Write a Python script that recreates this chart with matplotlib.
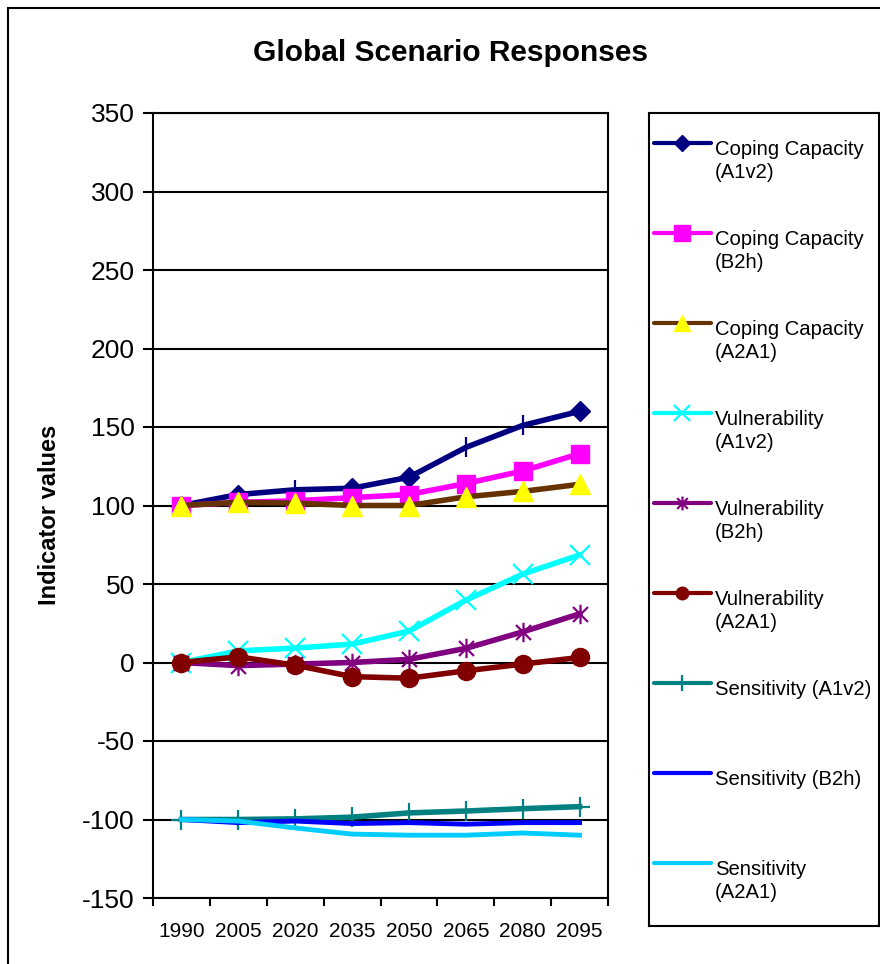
import numpy as np
import matplotlib
matplotlib.use('Agg')
import matplotlib.pyplot as plt
from matplotlib.path import Path
from matplotlib.patches import Rectangle

plt.rcParams['font.family'] = ['Liberation Sans', 'DejaVu Sans']
plt.rcParams['axes.unicode_minus'] = False

#scenario years and indicator series
years = ['1990', '2005', '2020', '2035', '2050', '2065', '2080', '2095']
cc_a1v2 = [100, 107, 110, 111, 118, 137, 151, 160]
cc_b2h = [100, 102, 103, 105, 107, 114, 122, 133]
cc_a2a1 = [100, 102, 101.5, 100, 100, 105.5, 109, 113.5]
vu_a1v2 = [0, 7.4, 9.2, 11.7, 20, 39.7, 56.3, 68.5]
vu_b2h = [0, -2, -1, 0, 2, 9, 19.5, 31]
vu_a2a1 = [0, 3.6, -1.7, -9, -10, -5.3, -1, 3.2]
se_a1v2 = [-100, -100, -99.6, -98.5, -95.8, -94.6, -93.1, -91.8]
se_b2h = [-100, -102, -101, -102.6, -102, -103, -102, -102]
se_a2a1 = [-100, -101, -105.4, -109.3, -110, -110, -108.6, -110]

labels = ['Coping Capacity\n(A1v2)', 'Coping Capacity\n(B2h)', 'Coping Capacity\n(A2A1)',
          'Vulnerability\n(A1v2)', 'Vulnerability\n(B2h)', 'Vulnerability\n(A2A1)',
          'Sensitivity (A1v2)', 'Sensitivity (B2h)', 'Sensitivity\n(A2A1)']

#excel style asterisk: an x with a vertical bar through it
asterisk = Path([(-1, -1), (1, 1), (-1, 1), (1, -1), (0, -1.3), (0, 1.3)],
                [Path.MOVETO, Path.LINETO, Path.MOVETO, Path.LINETO, Path.MOVETO, Path.LINETO])

#color, marker, size, face, edge, marker edge width, legend size
styles = [
    ('#000080', 'D', 10, '#000080', '#000080', 1, 8),
    ('#FF00FF', 's', 13.5, '#FF00FF', '#FF00FF', 1, 11),
    ('#663300', '^', 15, '#FFFF00', '#FFFF00', 1, 11),
    ('#00FFFF', 'x', 14, '#00FFFF', '#00FFFF', 1.6, 11),
    ('#800080', asterisk, 14, '#800080', '#800080', 1.6, 10),
    ('#800000', 'o', 13, '#800000', '#800000', 1, 9),
    ('#008080', '+', 15, '#008080', '#008080', 1.6, 12),
    ('#0000FF', None, 0, None, None, 1, 0),
    ('#00CCFF', None, 0, None, None, 1, 0),
]
series = [cc_a1v2, cc_b2h, cc_a2a1, vu_a1v2, vu_b2h, vu_a2a1, se_a1v2, se_b2h, se_a2a1]

fig = plt.figure(figsize=(8.8, 9.64), dpi=100)
fig.patch.set_facecolor('white')

#outer chart border
fig.patches.append(Rectangle((8/880, -0.02), 1.0, 1 - 8/964 + 0.02, transform=fig.transFigure,
                             fill=False, edgecolor='black', linewidth=1.5, zorder=0))

fig.text(450/880, 1 - 53/964, 'Global Scenario Responses', ha='center', va='center',
         fontsize=21.5, fontweight='bold')
fig.text(50/880, 1 - 515/964, 'Indicator values', ha='center', va='center',
         rotation=90, fontsize=17, fontweight='bold')

ax = fig.add_axes([153/880, 1 - 898/964, 455/880, 785/964])
x = np.arange(len(years))

for i in range(len(series)):
    color, marker, ms, fc, ec, mew, lms = styles[i]
    if i == 0:
        #first series: diamonds on some points, bars on the rest
        ax.plot(x, series[i], color=color, lw=4, marker='D', ms=ms, mfc=fc, mec=ec,
                markevery=[0, 1, 3, 4, 7], zorder=3 + i)
        ax.plot(x[[2, 5, 6]], np.array(series[i])[[2, 5, 6]], ls='none', marker='|',
                ms=14, mew=1.6, color=color, zorder=3 + i)
    elif marker is None:
        ax.plot(x, series[i], color=color, lw=3.5, zorder=3 + i)
    else:
        ax.plot(x, series[i], color=color, lw=4, marker=marker, ms=ms, mfc=fc, mec=ec,
                mew=mew, zorder=3 + i)

ax.set_xlim(-0.5, len(years) - 0.5)
ax.set_ylim(-150, 350)
ax.set_yticks(np.arange(-150, 351, 50))
ax.set_xticks(x)
ax.set_xticklabels(years)
ax.set_xticks(np.arange(-0.5, len(years), 1), minor=True)
ax.tick_params(axis='x', which='major', length=0, pad=17, labelsize=15)
ax.tick_params(axis='x', which='minor', length=6, width=1.5, direction='out')
ax.tick_params(axis='y', length=7, width=1.5, direction='out', pad=6, labelsize=19)
ax.yaxis.grid(True, color='black', lw=1.5)
ax.set_axisbelow(True)
for sp in ax.spines.values():
    sp.set_linewidth(1.5)
    sp.set_color('black')

#legend box on the right, laid out in pixel units
lax = fig.add_axes([649/880, 1 - 926/964, 230/880, 813/964])
lax.set_xlim(649, 879)
lax.set_ylim(926, 113)
lax.set_xticks([])
lax.set_yticks([])
for sp in lax.spines.values():
    sp.set_linewidth(1.5)
    sp.set_color('black')

for i in range(len(labels)):
    color, marker, ms, fc, ec, mew, lms = styles[i]
    yy = 143 + 90 * i
    lax.plot([654, 711], [yy, yy], color=color, lw=3, solid_capstyle='round')
    if marker is not None:
        lax.plot([682], [yy], marker=marker, ms=lms, mfc=fc, mec=ec, mew=mew, color=color)
    lax.text(715, yy - 3, labels[i], ha='left', va='top', fontsize=14.6, linespacing=1.3)

fig.savefig('out.png', dpi=100, facecolor='white')
